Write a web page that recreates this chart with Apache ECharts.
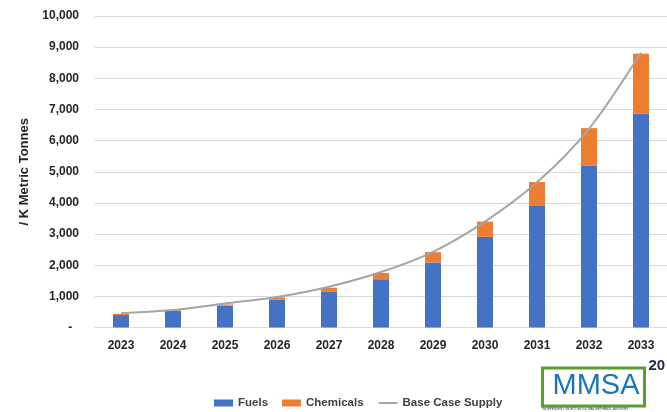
<!DOCTYPE html>
<html>
<head>
<meta charset="utf-8">
<script src="https://cdn.jsdelivr.net/npm/echarts@6/dist/echarts.min.js"></script>
<style>
  html, body { margin: 0; padding: 0; background: #fff; }
  #chart { width: 667px; height: 412px; }
</style>
</head>
<body>
<div id="chart"></div>
<script>
const years = ['2023', '2024', '2025', '2026', '2027', '2028', '2029', '2030', '2031', '2032', '2033']
const fuels = [400, 530, 700, 890, 1160, 1550, 2090, 2910, 3900, 5190, 6870]
const chemicals = [40, 20, 40, 80, 115, 200, 330, 490, 770, 1210, 1920]
const baseCaseSupply = [460, 560, 770, 980, 1310, 1780, 2430, 3400, 4660, 6380, 8820]

const chartDom = document.getElementById('chart')
const myChart = echarts.init(chartDom)
const font = '"Liberation Sans", Arial, sans-serif'

const option = {
  animation: false,
  textStyle: { fontFamily: font },
  grid: { left: 95, right: 0, top: 16, bottom: 84.5 },
  legend: {
    left: 209,
    top: 392,
    itemWidth: 19,
    itemHeight: 7,
    itemGap: 14,
    textStyle: { fontSize: 11.5, fontWeight: 'bold', color: '#404040', fontFamily: font },
    data: [
      { name: 'Fuels', icon: 'rect' },
      { name: 'Chemicals', icon: 'rect' },
      { name: 'Base Case Supply', itemStyle: { opacity: 0 } }
    ]
  },
  xAxis: {
    type: 'category',
    data: years,
    axisTick: { show: false },
    axisLine: { lineStyle: { color: '#D9D9D9', width: 1 } },
    axisLabel: { margin: 12, fontSize: 12, fontWeight: 'bold', color: '#262626' }
  },
  yAxis: {
    type: 'value',
    min: 0,
    max: 10000,
    interval: 1000,
    name: '/ K Metric Tonnes',
    nameLocation: 'middle',
    nameGap: 55,
    nameTextStyle: { fontSize: 13, fontWeight: 'bold', color: '#262626' },
    axisLabel: {
      margin: 16,
      fontSize: 12,
      fontWeight: 'bold',
      color: '#262626',
      formatter (v) {
        return v === 0 ? '-  ' : v.toLocaleString('en-US')
      }
    },
    splitLine: { lineStyle: { color: '#D9D9D9', width: 1 } }
  },
  series: [
    {
      name: 'Fuels',
      type: 'bar',
      stack: 'total',
      data: fuels,
      barWidth: 16,
      itemStyle: { color: '#4472C4' }
    },
    {
      name: 'Chemicals',
      type: 'bar',
      stack: 'total',
      data: chemicals,
      barWidth: 16,
      itemStyle: { color: '#ED7D31' }
    },
    {
      name: 'Base Case Supply',
      type: 'line',
      data: baseCaseSupply,
      smooth: 0.3,
      symbol: 'none',
      lineStyle: { color: '#A5A5A5', width: 2 },
      itemStyle: { color: '#A5A5A5' }
    }
  ],
  graphic: [
    {
      type: 'group',
      left: 541,
      top: 358,
      children: [
        { type: 'rect', shape: { x: 0, y: 10, width: 102, height: 38 }, style: { fill: '#fff', stroke: '#5AA02C', lineWidth: 3 } },
        { type: 'text', x: 10, y: 13, style: { text: 'MMSA', fontSize: 29, fontFamily: font, fill: '#1B75BB' } },
        { type: 'text', x: 106, y: 0, style: { text: '20', fontSize: 15, fontWeight: 'bold', fontFamily: font, fill: '#1F2A44' } },
        { type: 'text', x: 0, y: 50, style: { text: 'INDEPENDENT OBJECTIVE GLOBAL METHANOL ADVISORS', fontSize: 3, fontFamily: font, fill: '#333' } }
      ]
    }
  ]
}

myChart.setOption(option)
</script>
</body>
</html>
